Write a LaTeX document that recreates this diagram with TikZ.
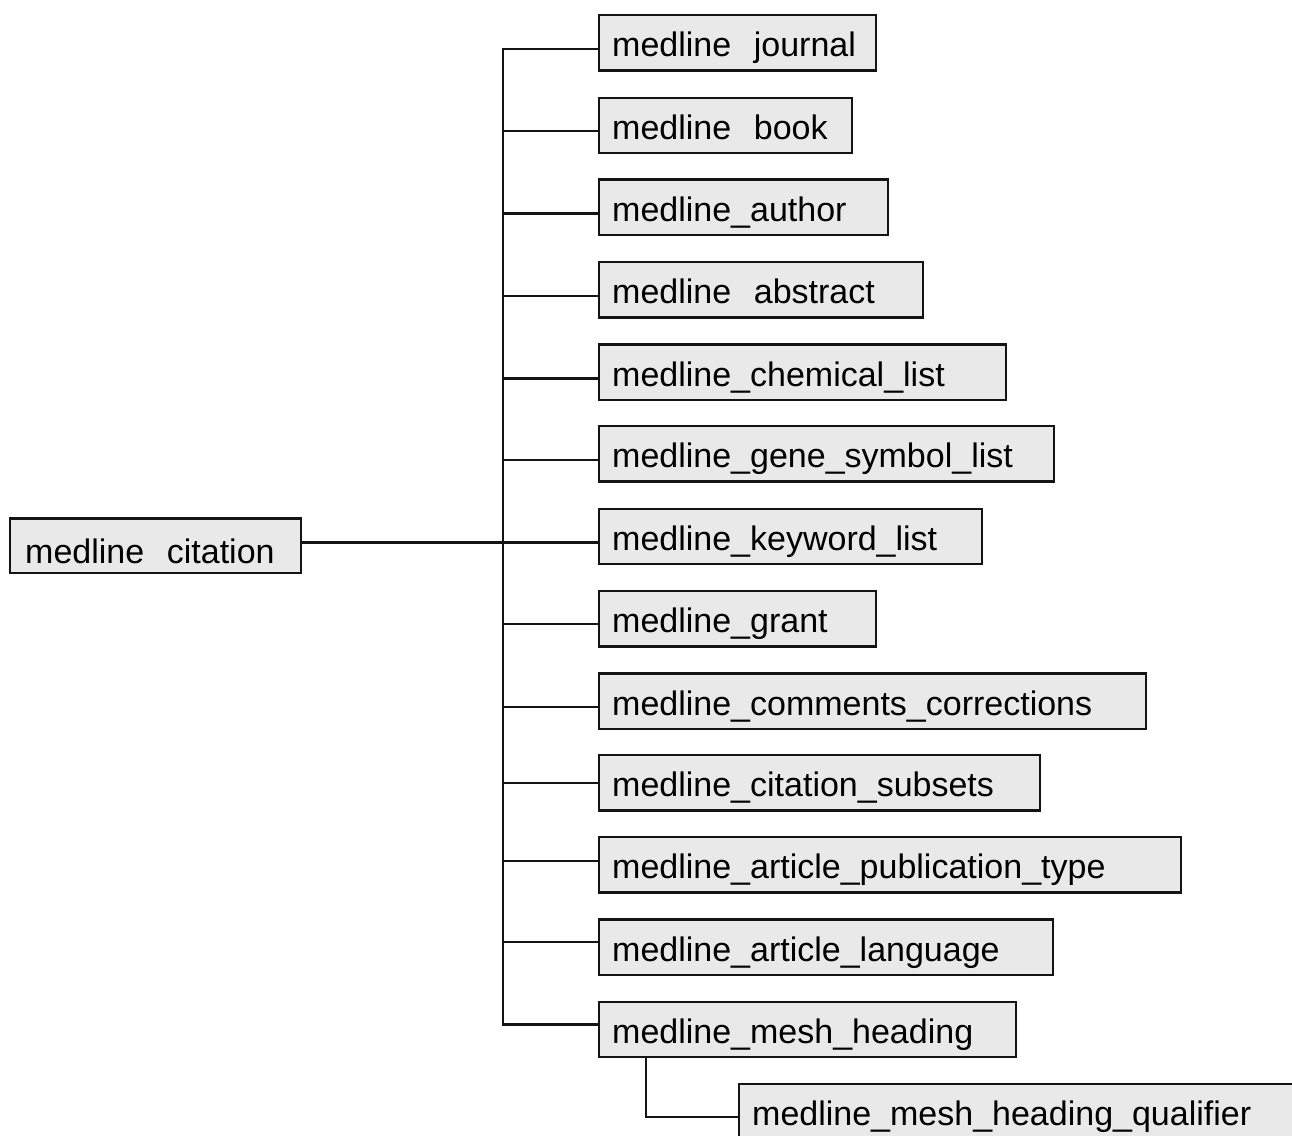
\documentclass[tikz,border=0pt]{standalone}
\usepackage{fontspec}
\setmainfont{Liberation Sans}
\definecolor{boxgray}{HTML}{E9E9E9}
\definecolor{linek}{HTML}{141414}
\tikzset{
  bx/.style={draw=linek, line width=2.4pt, fill=boxgray, anchor=north west,
    inner xsep=13pt, inner ysep=4pt, text height=37.5pt, text depth=9.8pt,
    align=left, text width=#1, font=\fontsize{34}{40}\selectfont},
  citbox/.style={bx=#1, inner xsep=15pt, text height=40.8pt, text depth=5.5pt},
  conn/.style={draw=linek, line width=2.4pt}
}
\begin{document}
\begin{tikzpicture}[x=1pt, y=-1pt]
\useasboundingbox (0,0) rectangle (1292,1135);
\clip (0,0) rectangle (1292,1135);
\fill[white] (0,0) rectangle (1292,1135);

\node[citbox=261pt] (cit) at (9,517.3) {medline\ \ citation};

\node[bx=251pt] (b1)  at (598,14)     {medline\ \ journal};
\node[bx=227pt] (b2)  at (598,96.5)   {medline\ \ book};
\node[bx=263pt] (b3)  at (598,178.3)  {medline\_author};
\node[bx=298pt] (b4)  at (598,261)    {medline\ \ abstract};
\node[bx=381pt] (b5)  at (598,343.3)  {medline\_chemical\_list};
\node[bx=429pt] (b6)  at (598,425)    {medline\_gene\_symbol\_list};
\node[bx=357pt] (b7)  at (598,507.7)  {medline\_keyword\_list};
\node[bx=251pt] (b8)  at (598,590)    {medline\_grant};
\node[bx=521pt] (b9)  at (598,672.3)  {medline\_comments\_corrections};
\node[bx=415pt] (b10) at (598,754)    {medline\_citation\_subsets};
\node[bx=556pt] (b11) at (598,836)    {medline\_article\_publication\_type};
\node[bx=428pt] (b12) at (598,918.3)  {medline\_article\_language};
\node[bx=391pt] (b13) at (598,1000.7) {medline\_mesh\_heading};
\node[bx=574pt] (q)   at (738,1083)   {medline\_mesh\_heading\_qualifier};

\coordinate (t1)  at (503,49);
\coordinate (t2)  at (503,130.7);
\coordinate (t3)  at (503,213.3);
\coordinate (t4)  at (503,295.7);
\coordinate (t5)  at (503,378.3);
\coordinate (t6)  at (503,460);
\coordinate (t7)  at (503,542.3);
\coordinate (t8)  at (503,624);
\coordinate (t9)  at (503,706.7);
\coordinate (t10) at (503,782.7);
\coordinate (t11) at (503,861);
\coordinate (t12) at (503,941.7);
\coordinate (t13) at (503,1024.3);
\coordinate (s)   at (646,1117);

\draw[conn, line cap=rect] (t1) -- (t13);
\foreach \i in {1,...,13} {
  \draw[conn] (t\i) -- (t\i -| b\i.west);
}
\draw[conn] (cit.east |- t7) -- (t7);
\draw[conn, line join=miter] (b13.south -| s) |- (q.west |- s);
\end{tikzpicture}
\end{document}
